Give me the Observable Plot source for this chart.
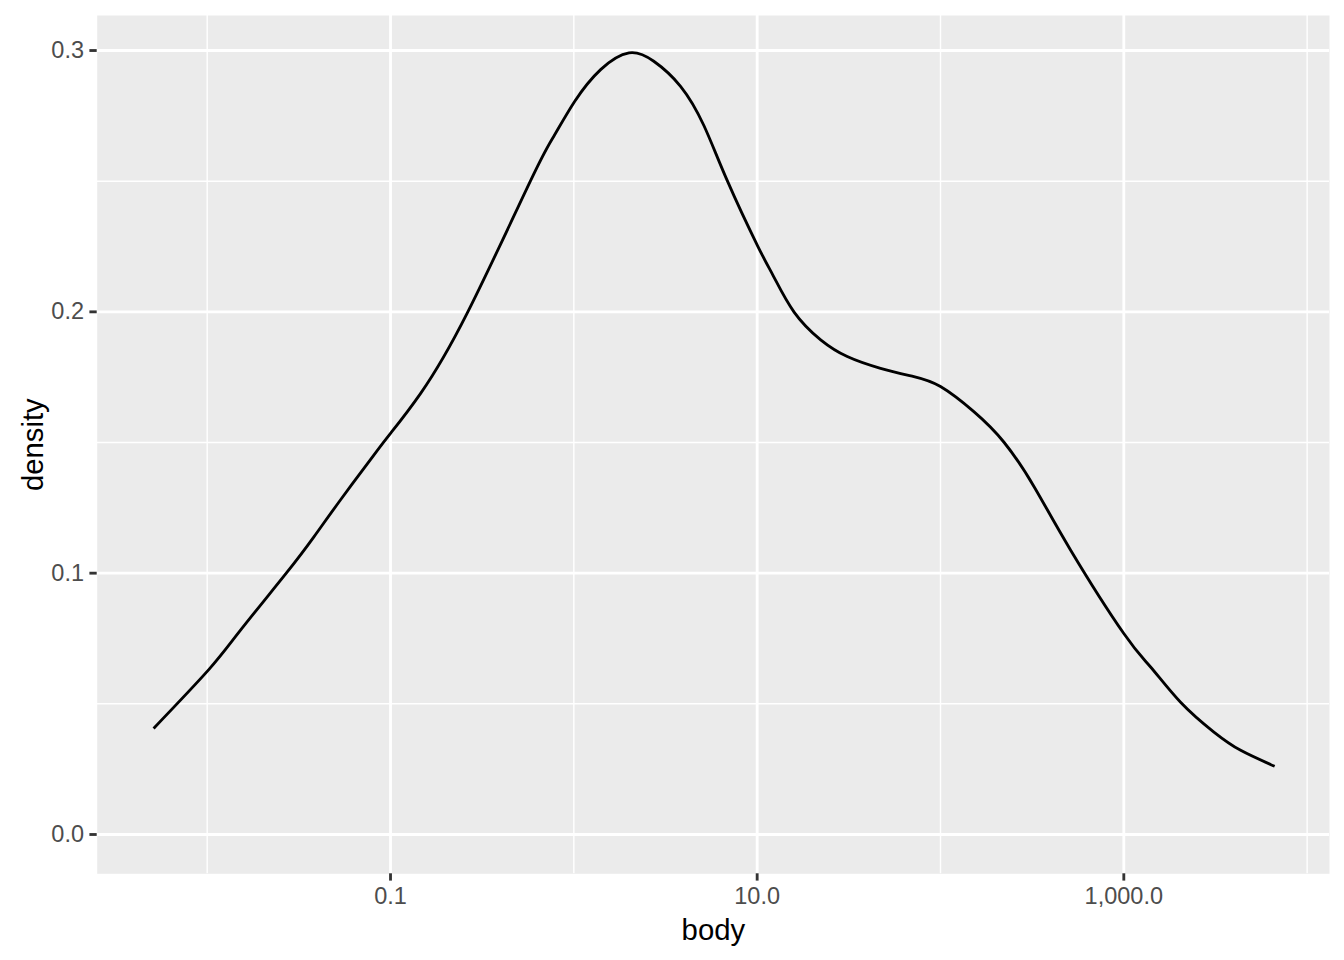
<!DOCTYPE html>
<html><head><meta charset="utf-8">
<script src="https://cdn.jsdelivr.net/npm/d3@7"></script>
<script src="https://cdn.jsdelivr.net/npm/@observablehq/plot@0.6"></script>
<style>html,body{margin:0;padding:0;background:#fff;}</style>
</head><body><div id="chart"></div>
<script>
const body = [0.0051, 0.0102, 0.0152, 0.027, 0.0382, 0.0533, 0.0811, 0.1, 0.146, 0.262, 0.581, 0.778, 1.01, 1.4, 2.0, 2.73, 3.82, 5.12, 6.87, 10.1, 12.3, 15.9, 22.2, 31.0, 47.1, 71.6, 100, 152, 222, 324, 513, 1000, 1400, 2040, 3100, 4340, 6650];
const density = [0.0406, 0.0631, 0.0782, 0.1, 0.1139, 0.128, 0.1452, 0.1535, 0.1688, 0.1995, 0.2502, 0.2672, 0.2805, 0.2927, 0.2991, 0.2959, 0.2863, 0.2713, 0.2502, 0.2250, 0.2135, 0.1999, 0.1893, 0.1829, 0.1784, 0.1752, 0.1714, 0.1618, 0.1501, 0.1331, 0.1088, 0.0769, 0.0641, 0.0506, 0.0392, 0.0322, 0.0261];

const xMajorTicks = [0.1, 10, 1000];
const xTickLabels = ["0.1", "10.0", "1,000.0"];
const xMinorTicks = [0.01, 1, 100, 10000];
const yMajorTicks = [0, 0.1, 0.2, 0.3];
const yTickLabels = ["0.0", "0.1", "0.2", "0.3"];
const yMinorTicks = [0.05, 0.15, 0.25];
const xTitle = "body";
const yTitle = "density";

const data = body.map((b, i) => ({body: b, density: density[i]}));
const xLab = new Map(xMajorTicks.map((t, i) => [t, xTickLabels[i]]));
const yLab = new Map(yMajorTicks.map((t, i) => [t, yTickLabels[i]]));

const chart = Plot.plot({
  width: 1344,
  height: 960,
  marginLeft: 96.7,
  marginRight: 15,
  marginTop: 15,
  marginBottom: 86.7,
  style: {fontFamily: "'Liberation Sans', Arial, sans-serif", fontSize: "23.5px", background: "#ffffff", color: "#000"},
  x: {type: "log", domain: [0.002512, 13243], label: null},
  y: {domain: [-0.01504, 0.3134], label: null},
  marks: [
    Plot.frame({fill: "#EBEBEB", stroke: "none"}),
    Plot.ruleX(xMinorTicks, {stroke: "#ffffff", strokeWidth: 1.42}),
    Plot.ruleY(yMinorTicks, {stroke: "#ffffff", strokeWidth: 1.42}),
    Plot.ruleX(xMajorTicks, {stroke: "#ffffff", strokeWidth: 2.84}),
    Plot.ruleY(yMajorTicks, {stroke: "#ffffff", strokeWidth: 2.84}),
    Plot.line(data, {x: "body", y: "density", stroke: "#000000", strokeWidth: 2.84, curve: "natural", strokeLinecap: "butt"}),
    Plot.axisX({ticks: xMajorTicks, tickFormat: d => xLab.get(d), tickSize: 7.3, tickPadding: 5.9, stroke: "#333333", fill: "#4D4D4D", strokeWidth: 2.84, label: null}),
    Plot.axisY({ticks: yMajorTicks, tickFormat: d => yLab.get(d), tickSize: 7.3, tickPadding: 5.9, stroke: "#333333", fill: "#4D4D4D", strokeWidth: 2.84, label: null}),
    Plot.text([xTitle], {text: d => d, frameAnchor: "bottom", textAnchor: "middle", lineAnchor: "middle", dy: 57, fontSize: 29.3, fill: "#000000"}),
    Plot.text([yTitle], {text: d => d, frameAnchor: "left", textAnchor: "middle", lineAnchor: "middle", rotate: -90, dx: -64, fontSize: 29.3, fill: "#000000"})
  ]
});
document.getElementById("chart").appendChild(chart);
</script>
</body></html>
